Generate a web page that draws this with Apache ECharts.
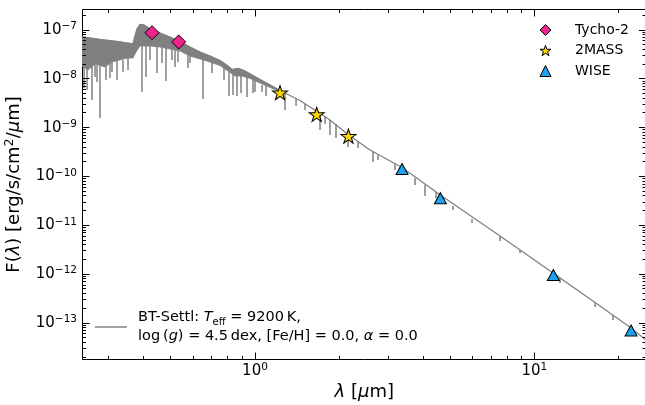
<!DOCTYPE html>
<html><head><meta charset="utf-8">
<script src="https://cdn.jsdelivr.net/npm/echarts@6/dist/echarts.min.js"></script>
<style>html,body{margin:0;padding:0;background:#fff}#c{width:645px;height:405px}</style>
</head><body><div id="c"></div>
<script>
// ---------------- data ----------------
// Photometry
const tychoWl = [0.428, 0.533];
const tychoFlux = [8.8e-8, 5.7e-8];
const tmassWl = [1.229, 1.663, 2.16];
const tmassFlux = [5.2e-9, 1.87e-9, 6.7e-10];
const wiseWl = [3.36, 4.61, 11.7, 22.2];
const wiseFlux = [1.42e-10, 3.6e-11, 9.6e-13, 7.0e-14];

// BT-Settl model: upper envelope / continuum
const modelWl = [0.240,0.2786,0.3232,0.3658,0.3719,0.3780,0.3876,0.4005,0.4279,0.4571,0.4961,0.5387,0.5852,0.6355,0.6902,0.7494,0.8004,0.8273,0.8692,0.9133,0.9596,1.042,1.132,1.239,1.449,1.667,1.855,2.153,2.580,3.360,4.634,7.54,11.67,17.19,22.19,25.11];
const modelFlux = [7.19e-8,6.39e-8,5.81e-8,5.17e-8,7.53e-8,1.05e-7,1.30e-7,1.27e-7,1.0e-7,8.68e-8,7.19e-8,5.81e-8,4.49e-8,3.54e-8,2.93e-8,2.37e-8,1.83e-8,1.55e-8,1.63e-8,1.48e-8,1.26e-8,9.69e-9,7.47e-9,5.63e-9,3.60e-9,2.14e-9,1.44e-9,7.24e-10,3.49e-10,1.53e-10,4.08e-11,6.04e-12,1.06e-12,2.23e-13,7.89e-14,4.48e-14];
// lower envelope of the dense line forest
const bandWl = [0.240,0.2524,0.2673,0.2901,0.3075,0.3276,0.3501,0.3658,0.3749,0.3876,0.4208,0.4571,0.4961,0.5387,0.5852,0.6355,0.6902,0.7494,0.8004,0.8479,0.8985,0.9596,1.042,1.132,1.239];
const bandLow = [1.83e-8,1.52e-8,2.01e-8,1.75e-8,2.21e-8,2.43e-8,2.67e-8,2.67e-8,3.54e-8,4.70e-8,4.70e-8,4.49e-8,4.08e-8,3.72e-8,2.93e-8,2.55e-8,2.21e-8,1.87e-8,1.45e-8,1.14e-8,1.14e-8,1.02e-8,8.21e-9,6.65e-9,5.38e-9];
// absorption lines: wavelength, flux at top, flux at bottom of the dip
const lineWl = [0.2443,0.2503,0.2609,0.2674,0.2719,0.2786,0.2927,0.3026,0.3076,0.3206,0.3368,0.3510,0.3939,0.4072,0.4207,0.4457,0.4645,0.4801,0.5044,0.5171,0.5300,0.5755,0.5852,0.6515,0.7015,0.7745,0.8070,0.8341,0.8622,0.8911,0.9362,0.9836,1.0000,1.0594,1.0949,1.2805,1.4026,1.5101,1.7089,1.7810,1.8554,1.9498,2.1528,2.3379,2.6454,2.7564,3.1712,3.7398,4.0610,4.4473,5.1157,5.9841,7.5405,8.889,12.36,16.50,19.13];
const lineTop = [1.83e-8,1.67e-8,1.83e-8,2.01e-8,1.92e-8,1.83e-8,1.83e-8,2.11e-8,2.21e-8,2.32e-8,2.43e-8,2.67e-8,4.70e-8,4.70e-8,4.70e-8,4.70e-8,4.49e-8,4.28e-8,4.08e-8,4.0e-8,3.89e-8,3.23e-8,2.93e-8,2.55e-8,2.21e-8,1.67e-8,1.38e-8,1.26e-8,1.14e-8,1.14e-8,1.09e-8,9.47e-9,9.03e-9,7.47e-9,7.13e-9,4.89e-9,3.86e-9,3.05e-9,2.00e-9,1.73e-9,1.44e-9,1.19e-9,7.42e-10,5.33e-10,3.33e-10,2.75e-10,1.80e-10,9.31e-11,6.70e-11,4.81e-11,2.49e-11,1.35e-11,6.04e-12,3.12e-12,8.34e-13,2.69e-13,1.46e-13];
const lineDepth = [6.49e-9,5.90e-9,3.68e-9,1.09e-8,8.61e-9,1.58e-9,9.47e-9,1.04e-8,1.38e-8,9.47e-9,1.38e-8,1.52e-8,5.37e-9,1.09e-8,2.43e-8,1.32e-8,2.11e-8,9.03e-9,2.43e-8,1.75e-8,2.21e-8,1.67e-8,2.11e-8,3.86e-9,1.32e-8,9.47e-9,4.45e-9,4.67e-9,4.45e-9,5.13e-9,4.25e-9,5.13e-9,5.37e-9,5.37e-9,4.45e-9,2.30e-9,2.78e-9,2.30e-9,8.96e-10,1.19e-9,7.07e-10,6.14e-10,4.02e-10,3.83e-10,1.98e-10,2.18e-10,1.36e-10,6.70e-11,3.99e-11,3.63e-11,2.06e-11,1.12e-11,4.77e-12,2.71e-12,6.59e-13,2.12e-13,1.15e-13];

const seriesNames = ['Tycho-2', '2MASS', 'WISE'];
const modelName = 'BT-Settl';

// ---------------- chart ----------------
const FONT = 'DejaVu Sans';
const GRAY = '#808080';
const X_MIN = 0.2412, X_MAX = 25.11, Y_MIN = 1.789e-14, Y_MAX = 2.63e-7;
const STAR = 'path://M50,2 L61.8,37.6 L99,37.6 L68.9,59.6 L80.3,95.1 L50,73.2 L19.7,95.1 L31.1,59.6 L1,37.6 L38.2,37.6 Z';

function logTicks(lo, hi) {
  const major = [], minor = [];
  for (let n = Math.floor(Math.log10(lo)); n <= Math.ceil(Math.log10(hi)); n++) {
    for (let k = 1; k <= 9; k++) {
      const v = k * Math.pow(10, n);
      if (v >= lo && v <= hi) (k === 1 ? major : minor).push(v);
    }
  }
  return { major, minor };
}
const xt = logTicks(X_MIN, X_MAX), yt = logTicks(Y_MIN, Y_MAX);
const xTickData = xt.major.map(v => [v, 1e-10, 1]).concat(xt.minor.map(v => [v, 1e-10, 0]));
const yTickData = yt.major.map(v => [1, v, 1]).concat(yt.minor.map(v => [1, v, 0]));

function pow10Label(v) {
  const l = Math.log10(v), e = Math.round(l);
  if (Math.abs(l - e) > 1e-6) return '';
  return '{b|10}{s|' + (e < 0 ? '\u2212' : '') + Math.abs(e) + '}';
}
const labelRich = {
  b: { fontFamily: FONT, fontSize: 15, color: '#000', lineHeight: 18 },
  s: { fontFamily: FONT, fontSize: 10.5, color: '#000', lineHeight: 8, verticalAlign: 'top' }
};

function snap(v) { return Math.round(v - 0.5) + 0.5; }

const chart = echarts.init(document.getElementById('c'), null, { renderer: 'canvas' });
const option = {
  animation: false,
  backgroundColor: '#fff',
  grid: { left: 82.5, top: 9.5, right: -1, bottom: 45.5, show: true, borderColor: '#000', borderWidth: 1, backgroundColor: 'transparent', containLabel: false, outerBoundsMode: 'none' },
  legend: [
    {
      data: seriesNames, orient: 'vertical', left: 539.5, top: 23, padding: 0,
      itemWidth: 11, itemHeight: 11, itemGap: 6.5,
      itemStyle: { borderWidth: 1, borderColor: '#000' },
      textStyle: { fontFamily: FONT, fontSize: 14, color: '#000', lineHeight: 14, padding: [0, 0, 0, 19] }
    },
    {
      data: [modelName], left: 95, top: 308, padding: 0, icon: 'rect',
      itemWidth: 32, itemHeight: 1.5, symbolKeepAspect: false,
      formatter: function () {
        return 'BT-Settl: {i|T}{sub|eff} = 9200\u2009K,\nlog\u2009({i|g}) = 4.5\u2009dex, [Fe/H] = 0.0, {i|\u03b1} = 0.0';
      },
      textStyle: {
        fontFamily: FONT, fontSize: 14.5, color: '#000', lineHeight: 19, padding: [0, 0, 0, 6],
        rich: {
          i: { fontFamily: FONT, fontSize: 14.5, fontStyle: 'italic', color: '#000', lineHeight: 19 },
          sub: { fontFamily: FONT, fontSize: 10, color: '#000', lineHeight: 12, verticalAlign: 'bottom' }
        }
      }
    }
  ],
  xAxis: {
    type: 'log', logBase: 10, min: X_MIN, max: X_MAX,
    axisLine: { show: false }, axisTick: { show: false }, splitLine: { show: false },
    axisLabel: { formatter: pow10Label, rich: labelRich, margin: 2.5, showMinLabel: false, showMaxLabel: false },
    name: '{i|\u03bb} [{i|\u03bc}m]', nameLocation: 'middle', nameGap: 22,
    nameTextStyle: {
      fontFamily: FONT, fontSize: 18, color: '#000',
      rich: { i: { fontFamily: FONT, fontSize: 18, fontStyle: 'italic', color: '#000' } }
    }
  },
  yAxis: {
    type: 'log', logBase: 10, min: Y_MIN, max: Y_MAX,
    axisLine: { show: false }, axisTick: { show: false }, splitLine: { show: false },
    axisLabel: { formatter: pow10Label, rich: labelRich, margin: 5.5, showMinLabel: false, showMaxLabel: false },
    name: 'F({i|\u03bb}) [erg/s/cm{s|2}/{i|\u03bc}m]', nameLocation: 'middle', nameGap: 53,
    nameTextStyle: {
      fontFamily: FONT, fontSize: 18, color: '#000', lineHeight: 22,
      rich: {
        i: { fontFamily: FONT, fontSize: 18, fontStyle: 'italic', color: '#000', lineHeight: 22 },
        s: { fontFamily: FONT, fontSize: 12.6, color: '#000', lineHeight: 10, verticalAlign: 'top' }
      }
    }
  },
  series: [
    {
      type: 'custom', name: 'band', silent: true, z: 1, clip: true,
      data: [[bandWl[0], bandLow[0]]],
      encode: { x: 0, y: 1 },
      renderItem: function (params, api) {
        const pts = [];
        for (let i = 0; i < modelWl.length && modelWl[i] <= bandWl[bandWl.length - 1] + 1e-9; i++) pts.push(api.coord([modelWl[i], modelFlux[i]]));
        for (let i = bandWl.length - 1; i >= 0; i--) pts.push(api.coord([bandWl[i], bandLow[i]]));
        return { type: 'polygon', shape: { points: pts }, style: { fill: GRAY, stroke: GRAY, lineWidth: 0.8 } };
      }
    },
    {
      type: 'custom', name: 'lines', silent: true, z: 1, clip: true,
      data: lineWl.map((w, i) => [w, lineTop[i], lineDepth[i]]),
      encode: { x: 0, y: 1 },
      renderItem: function (params, api) {
        const a = api.coord([api.value(0), api.value(1)]);
        const b = api.coord([api.value(0), api.value(2)]);
        return { type: 'line', shape: { x1: a[0], y1: a[1], x2: b[0], y2: b[1] }, style: { stroke: GRAY, lineWidth: 1.5 } };
      }
    },
    {
      type: 'line', name: modelName, z: 2, showSymbol: false, symbol: 'none', silent: true,
      data: modelWl.map((w, i) => [w, modelFlux[i]]),
      lineStyle: { color: GRAY, width: 1.3 }, itemStyle: { color: GRAY }
    },
    {
      type: 'scatter', name: seriesNames[0], z: 5, symbol: 'diamond', symbolSize: 14,
      data: tychoWl.map((w, i) => [w, tychoFlux[i]]),
      itemStyle: { color: '#f0228c', borderColor: '#000', borderWidth: 1, opacity: 1 }
    },
    {
      type: 'scatter', name: seriesNames[1], z: 5, symbol: STAR, symbolSize: [15, 14],
      data: tmassWl.map((w, i) => [w, tmassFlux[i]]),
      itemStyle: { color: '#ffd700', borderColor: '#000', borderWidth: 1, opacity: 1 }
    },
    {
      type: 'scatter', name: seriesNames[2], z: 5, symbol: 'triangle', symbolSize: [12, 11],
      data: wiseWl.map((w, i) => [w, wiseFlux[i]]),
      itemStyle: { color: '#1ca2ee', borderColor: '#000', borderWidth: 1, opacity: 1 }
    },
    {
      type: 'custom', name: 'xticks', silent: true, z: 6,
      data: xTickData, encode: { x: 0, y: 1 },
      renderItem: function (params, api) {
        const cs = params.coordSys;
        const x = snap(api.coord([api.value(0), api.value(1)])[0]);
        const len = api.value(2) ? 7 : 3.5;
        const top = cs.y, bot = cs.y + cs.height;
        return { type: 'group', children: [
          { type: 'line', shape: { x1: x, y1: bot, x2: x, y2: bot - len }, style: { stroke: '#000', lineWidth: 1 } },
          { type: 'line', shape: { x1: x, y1: top, x2: x, y2: top + len }, style: { stroke: '#000', lineWidth: 1 } }
        ] };
      }
    },
    {
      type: 'custom', name: 'yticks', silent: true, z: 6,
      data: yTickData, encode: { x: 0, y: 1 },
      renderItem: function (params, api) {
        const cs = params.coordSys;
        const y = snap(api.coord([api.value(0), api.value(1)])[1]);
        const len = api.value(2) ? 7 : 3.5;
        const l = cs.x, r = cs.x + cs.width;
        return { type: 'group', children: [
          { type: 'line', shape: { x1: l, y1: y, x2: l + len, y2: y }, style: { stroke: '#000', lineWidth: 1 } },
          { type: 'line', shape: { x1: r, y1: y, x2: r - len, y2: y }, style: { stroke: '#000', lineWidth: 1 } }
        ] };
      }
    }
  ]
};
chart.setOption(option);
</script>
</body></html>
